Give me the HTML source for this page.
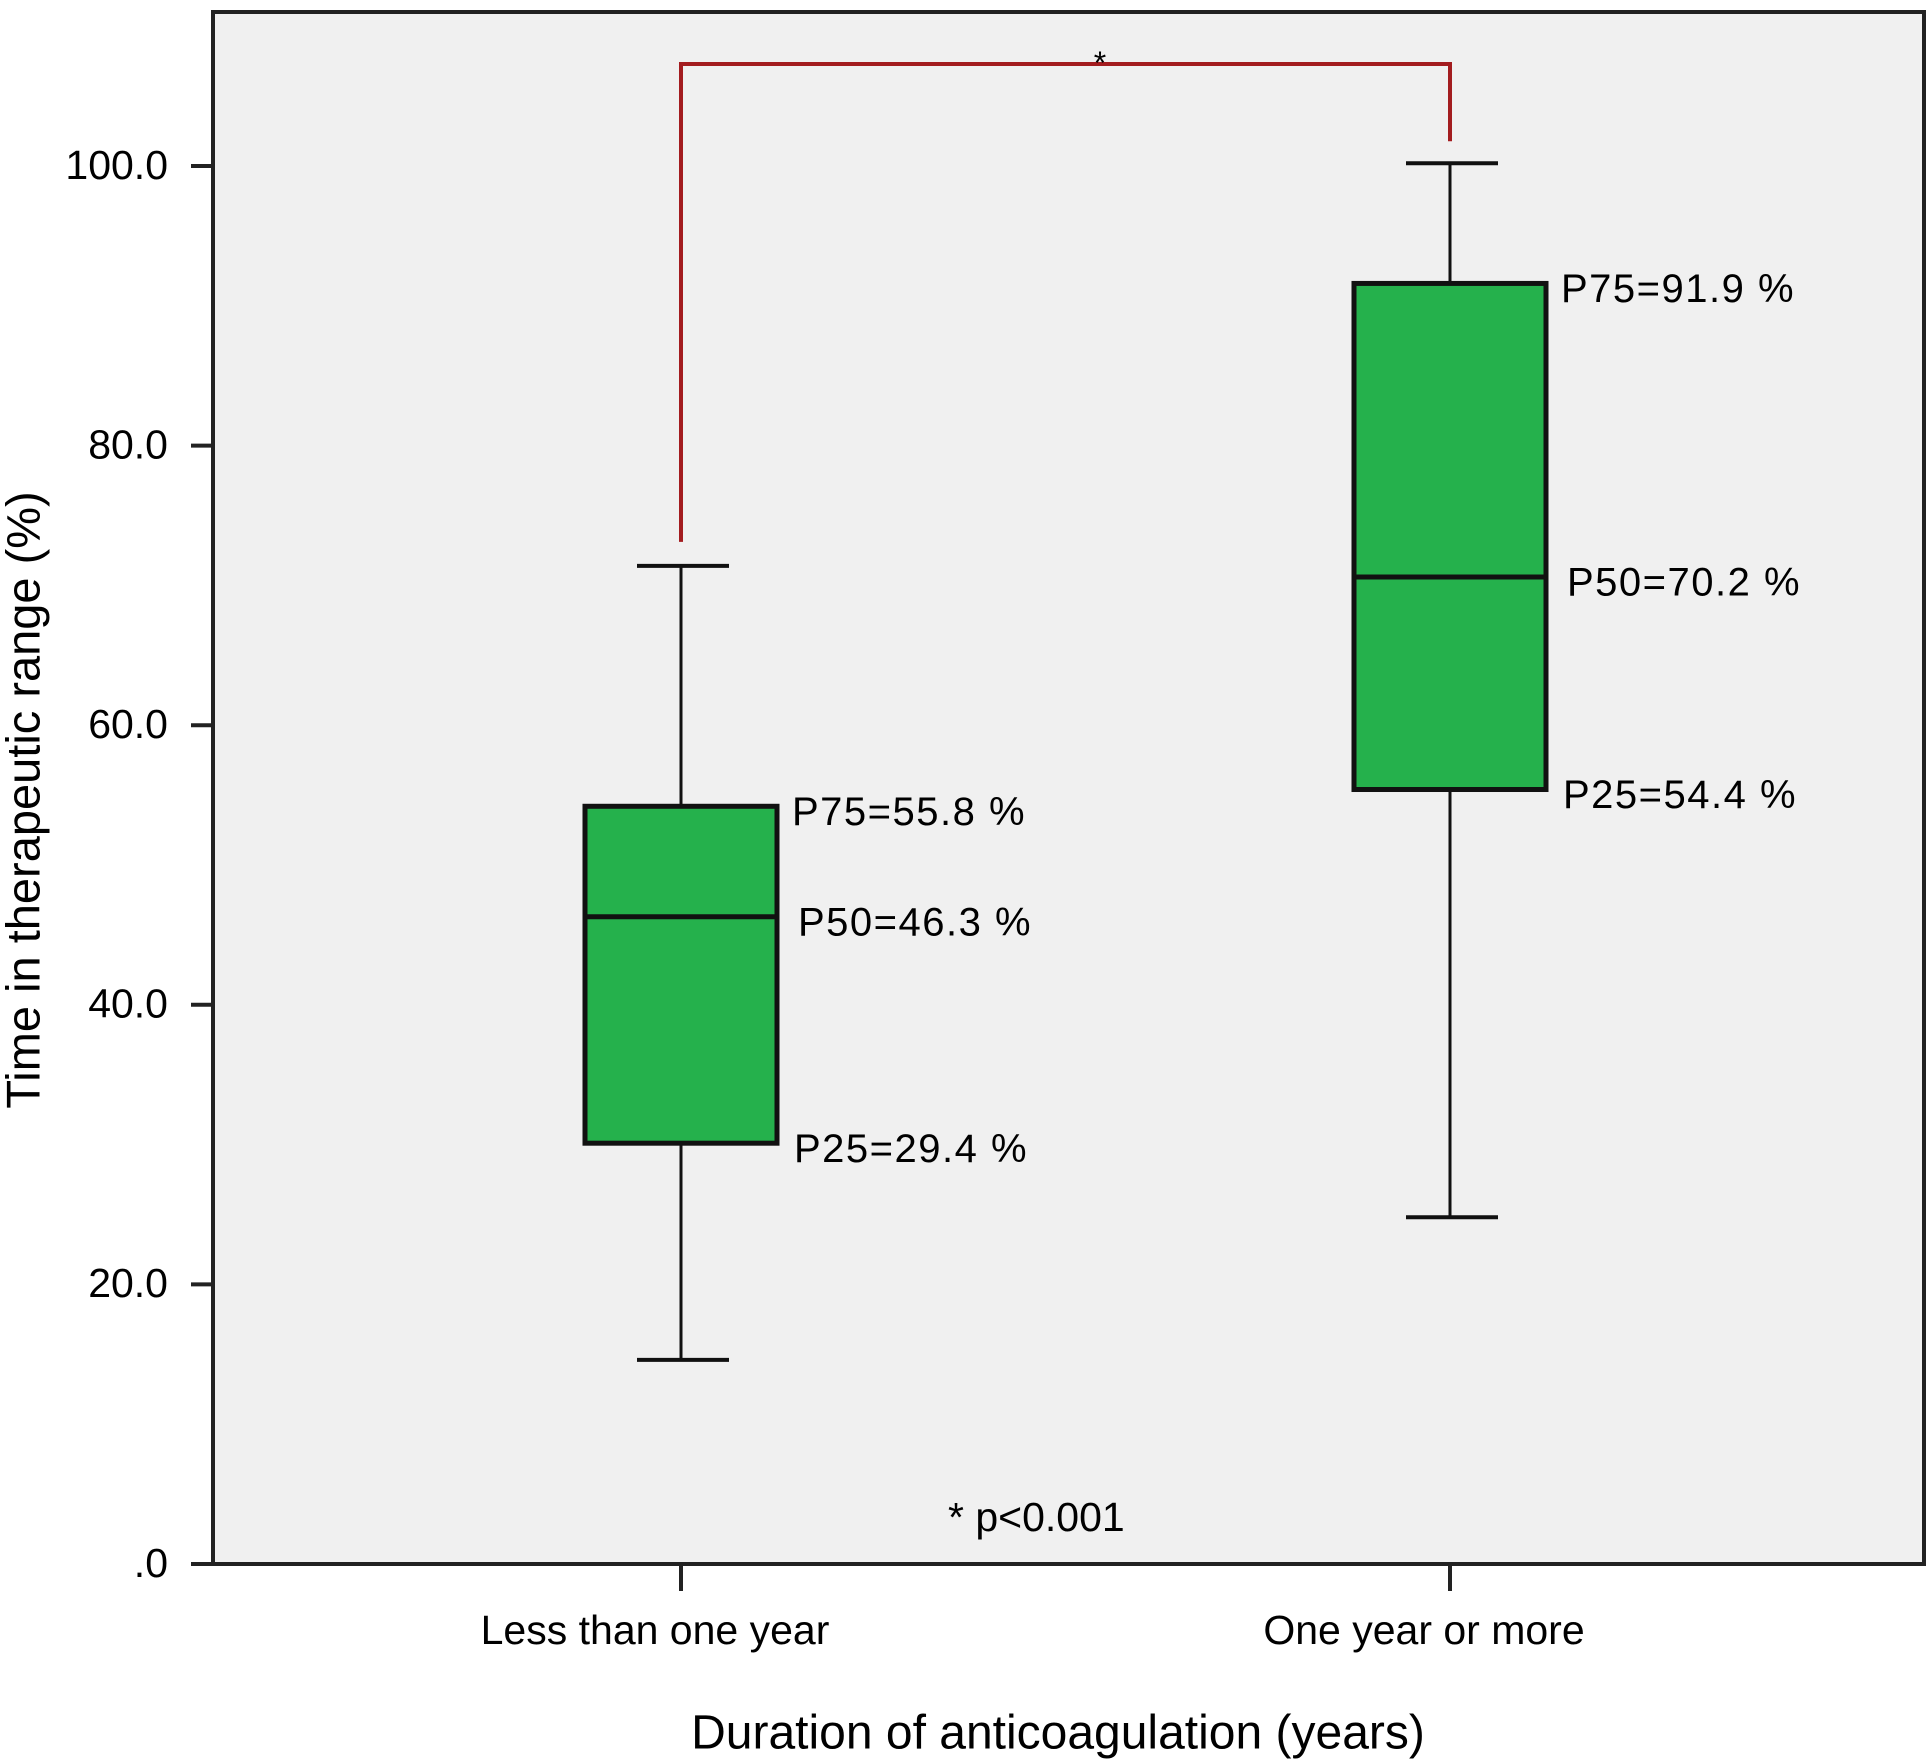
<!DOCTYPE html>
<html><head><meta charset="utf-8"><style>
html,body{margin:0;padding:0;background:#fff;}
svg{display:block;font-family:"Liberation Sans",sans-serif;}
</style></head><body>
<svg id="chart" width="1931" height="1764" viewBox="0 0 1931 1764">
<rect x="213" y="12" width="1711" height="1552" fill="#f0f0f0" stroke="#222" stroke-width="4"/>
<g id="marks"></g>
<text x="27" y="800" font-size="47" text-anchor="middle" transform="rotate(-90 27 800)" dominant-baseline="middle">Time in therapeutic range (%)</text>
<text x="1058" y="1736" font-size="48" text-anchor="middle" dominant-baseline="middle">Duration of anticoagulation (years)</text>
<text x="948" y="1520" font-size="41" dominant-baseline="middle">*  p&lt;0.001</text>
<text x="1100" y="74" font-size="32" text-anchor="middle">*</text>
</svg>
<script>
const categories = ["Less than one year", "One year or more"];
const whiskerLow = [14.6, 24.8];
const q1 = [30.1, 55.4];
const median = [46.3, 70.6];
const q3 = [54.2, 91.6];
const whiskerHigh = [71.4, 100.2];
const labelP75 = ["P75=55.8 %", "P75=91.9 %"];
const labelP50 = ["P50=46.3 %", "P50=70.2 %"];
const labelP25 = ["P25=29.4 %", "P25=54.4 %"];
const yTicks = [0, 20, 40, 60, 80, 100];
const yTickLabels = [".0", "20.0", "40.0", "60.0", "80.0", "100.0"];

const NS = "http://www.w3.org/2000/svg";
const g = document.getElementById("marks");
const yS = v => 1564 - v * 13.98;
const xC = i => 681 + i * 769;
function mk(tag, attrs, txt) {
  const e = document.createElementNS(NS, tag);
  for (const k in attrs) e.setAttribute(k, attrs[k]);
  if (txt !== undefined) e.textContent = txt;
  g.appendChild(e);
  return e;
}
yTicks.forEach((t, i) => {
  let e = mk("line", {x1: 191, x2: 213, y1: yS(t), y2: yS(t), stroke: "#222", "stroke-width": 4});
  
  
  e = mk("text", {x: 168, y: yS(t) + 2, "font-size": 41, "text-anchor": "end", "dominant-baseline": "middle"}, yTickLabels[i]);
  
  
});
categories.forEach((c, i) => {
  const x = xC(i);
  let e = mk("line", {x1: x, x2: x, y1: 1564, y2: 1591, stroke: "#222", "stroke-width": 4});
  
  
  e = mk("text", {x: x - 26, y: 1633, "font-size": 41, "text-anchor": "middle", "dominant-baseline": "middle"}, c);
  
  
  e = mk("line", {x1: x, x2: x, y1: yS(whiskerHigh[i]), y2: yS(whiskerLow[i]), stroke: "#111", "stroke-width": 3});
  
  
  [whiskerHigh[i], whiskerLow[i]].forEach(v => {
    const w = mk("line", {x1: x - 44, x2: x + 48, y1: yS(v), y2: yS(v), stroke: "#111", "stroke-width": 4});
    
    
  });
  e = mk("rect", {x: x - 96, y: yS(q3[i]), width: 192, height: yS(q1[i]) - yS(q3[i]), fill: "#25b14c", stroke: "#111", "stroke-width": 5});
  
  
  e = mk("line", {x1: x - 96, x2: x + 96, y1: yS(median[i]), y2: yS(median[i]), stroke: "#111", "stroke-width": 5});
  
  
  [[labelP75[i], q3[i], 111], [labelP50[i], median[i], 117], [labelP25[i], q1[i], 113]].forEach(a => {
    const t = mk("text", {x: x + a[2], y: yS(a[1]) + 8, "font-size": 40, "letter-spacing": "1.5", "dominant-baseline": "middle"}, a[0]);
    
    
  });
});
let br = mk("polyline", {points: `${xC(0)},${yS(whiskerHigh[0]) - 24} ${xC(0)},64 ${xC(1)},64 ${xC(1)},${yS(whiskerHigh[1]) - 22}`, fill: "none", stroke: "#a31c1f", "stroke-width": 4});


</script>
</body></html>
